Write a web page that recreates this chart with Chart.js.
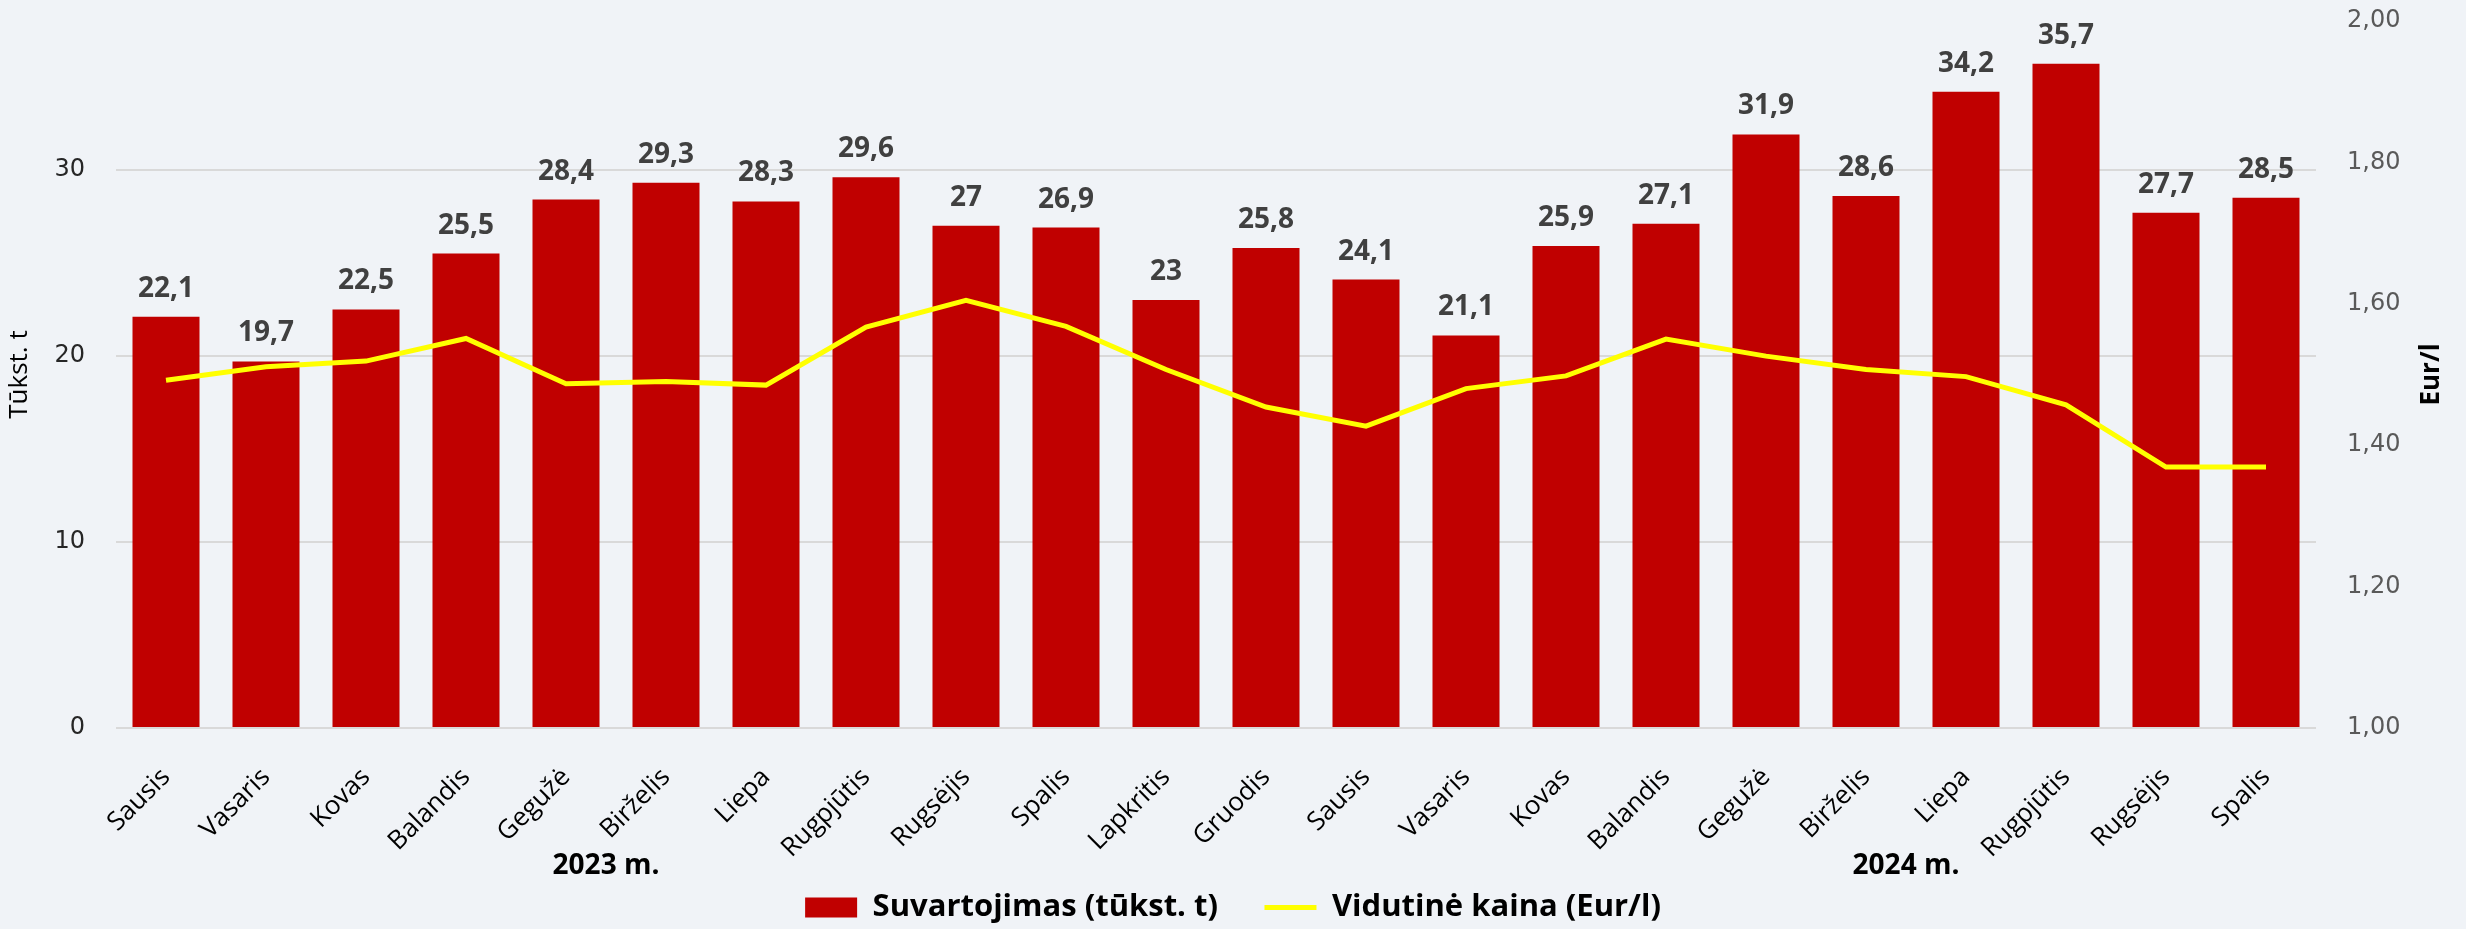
<!DOCTYPE html>
<html>
<head>
<meta charset="utf-8">
<script src="https://cdn.jsdelivr.net/npm/chart.js@4.4.1/dist/chart.umd.min.js"></script>
<style>
  html, body { margin: 0; padding: 0; background: #f0f3f7; }
  #wrap { width: 2466px; height: 929px; }
</style>
</head>
<body>
<div id="wrap"><canvas id="myChart"></canvas></div>
<script>
// Data
const months = ['Sausis', 'Vasaris', 'Kovas', 'Balandis', 'Gegužė', 'Birželis', 'Liepa', 'Rugpjūtis', 'Rugsėjis', 'Spalis', 'Lapkritis', 'Gruodis',
                'Sausis', 'Vasaris', 'Kovas', 'Balandis', 'Gegužė', 'Birželis', 'Liepa', 'Rugpjūtis', 'Rugsėjis', 'Spalis'];
const consumption = [22.1, 19.7, 22.5, 25.5, 28.4, 29.3, 28.3, 29.6, 27, 26.9, 23, 25.8,
                     24.1, 21.1, 25.9, 27.1, 31.9, 28.6, 34.2, 35.7, 27.7, 28.5];
const avgPrice = [1.492, 1.511, 1.519, 1.551, 1.487, 1.490, 1.485, 1.567, 1.605, 1.568, 1.507, 1.454,
                  1.427, 1.480, 1.498, 1.550, 1.526, 1.507, 1.497, 1.457, 1.369, 1.369];
const leftTicks = [0, 10, 20, 30];
const yearLabels = ['2023 m.', '2024 m.'];
const yearPos = [4.4, 17.4];

const comma = v => String(v).replace('.', ',');

// background, bar value labels, year labels and right axis title
const extras = {
    id: 'extras',
    beforeDraw(chart) {
        const c = chart.ctx;
        c.save();
        c.fillStyle = '#f0f3f7';
        c.fillRect(0, 0, chart.width, chart.height);
        c.restore();
    },
    afterDatasetsDraw(chart) {
        const c = chart.ctx;
        const meta = chart.getDatasetMeta(0);
        c.save();
        c.font = 'bold 28px "Open Sans"';
        c.fillStyle = '#404040';
        c.textAlign = 'center';
        c.textBaseline = 'alphabetic';
        meta.data.forEach((bar, i) => {
            c.fillText(comma(consumption[i]), bar.x, bar.y - 20);
        });

        const x = chart.scales.x;
        c.fillStyle = '#000';
        c.textBaseline = 'middle';
        yearLabels.forEach((t, i) => {
            c.fillText(t, x.getPixelForValue(yearPos[i]), chart.chartArea.bottom + 138);
        });

        const y1 = chart.scales.y1;
        c.translate(y1.right - 34, (chart.chartArea.top + chart.chartArea.bottom) / 2);
        c.rotate(-Math.PI / 2);
        c.font = 'bold 26px "Open Sans"';
        c.fillText('Eur/l', 0, 0);
        c.restore();
    }
};

const noPad = scale => { scale.paddingTop = 0; scale.paddingBottom = 0; };

const ctx = document.getElementById('myChart').getContext('2d');
const myChart = new Chart(ctx, {
    data: {
        labels: months,
        datasets: [{
            type: 'bar',
            label: 'Suvartojimas (tūkst. t)',
            data: consumption,
            backgroundColor: '#c00000',
            barPercentage: 0.67,
            categoryPercentage: 1,
            yAxisID: 'y',
            pointStyle: 'rect',
            order: 1
        }, {
            type: 'line',
            label: 'Vidutinė kaina (Eur/l)',
            data: avgPrice,
            borderColor: '#ffff00',
            backgroundColor: '#ffff00',
            borderWidth: 5,
            pointRadius: 0,
            tension: 0,
            yAxisID: 'y1',
            pointStyle: 'line',
            order: 0
        }]
    },
    options: {
        responsive: true,
        maintainAspectRatio: false,
        animation: false,
        layout: { padding: { top: 21, left: 0, right: 0, bottom: -4 } },
        plugins: {
            tooltip: { enabled: false },
            legend: {
                position: 'bottom',
                reverse: true,
                labels: {
                    usePointStyle: true,
                    pointStyleWidth: 52,
                    boxHeight: 20,
                    padding: 0,
                    color: '#000',
                    font: { family: 'Open Sans', size: 31, weight: 'bold' },
                    generateLabels(chart) {
                        const items = Chart.defaults.plugins.legend.labels.generateLabels(chart);
                        items.forEach(it => { if (it.datasetIndex === 0) it.text += '\u2003\u2002'; });
                        return items;
                    }
                }
            }
        },
        scales: {
            x: {
                grid: { display: false },
                border: { display: false },
                ticks: {
                    color: '#000',
                    minRotation: 45,
                    maxRotation: 45,
                    padding: 26,
                    font: { family: 'Open Sans', size: 26 }
                },
                afterFit(scale) { scale.height = 164; }
            },
            y: {
                position: 'left',
                min: 0,
                max: 38,
                afterBuildTicks(scale) {
                    scale.ticks = leftTicks.map(v => ({ value: v }));
                },
                grid: { color: '#d9d9d9', lineWidth: 2, drawTicks: false },
                border: { display: false },
                ticks: {
                    color: '#262626',
                    padding: 31,
                    font: { family: 'DejaVu Sans', size: 24 }
                },
                title: {
                    display: true,
                    text: 'Tūkst. t',
                    color: '#000',
                    padding: { top: 4, bottom: 0 },
                    font: { family: 'Open Sans', size: 26 }
                },
                afterFit(scale) { scale.width = 116; noPad(scale); }
            },
            y1: {
                position: 'right',
                min: 1,
                max: 2,
                grid: { display: false, drawTicks: false },
                border: { display: false },
                ticks: {
                    stepSize: 0.2,
                    color: '#595959',
                    padding: 31,
                    font: { family: 'DejaVu Sans', size: 24 },
                    callback: v => v.toFixed(2).replace('.', ',')
                },
                afterFit(scale) { scale.width = 150; noPad(scale); }
            }
        }
    },
    plugins: [extras]
});
</script>
</body>
</html>
